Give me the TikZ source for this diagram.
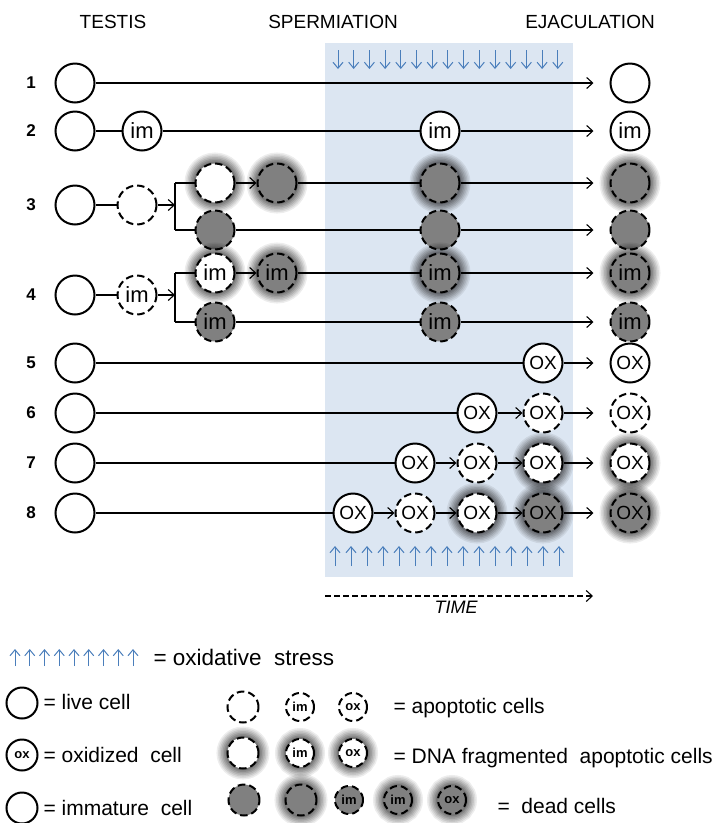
\documentclass[tikz,border=0pt]{standalone}
\usepackage{fontspec}
\setmainfont{Liberation Sans}
\usetikzlibrary{arrows.meta,backgrounds}
\definecolor{bgblue}{RGB}{220,230,242}
\definecolor{deadgray}{RGB}{128,128,128}
\definecolor{stressblue}{RGB}{74,126,187}
\begin{document}
\begin{tikzpicture}[x=1pt,y=-1pt,
  cell/.style={circle, draw=black, line width=2pt, minimum size=39pt, inner sep=0pt, fill=white, font=\fontsize{19}{19}\selectfont},
  imtxt/.style={font=\fontsize{22}{22}\selectfont},
  lcell/.style={cell, minimum size=31pt, font=\fontsize{13}{13}\selectfont\bfseries},
  apo/.style={dash pattern=on 7.5pt off 4pt},
  dead/.style={fill=deadgray},
  halo/.style={
    preaction={draw=black, solid, line width=22pt, draw opacity=0.07},
    preaction={draw=black, solid, line width=19pt, draw opacity=0.08},
    preaction={draw=black, solid, line width=16pt, draw opacity=0.09},
    preaction={draw=black, solid, line width=13pt, draw opacity=0.10},
    preaction={draw=black, solid, line width=10pt, draw opacity=0.11},
    preaction={draw=black, solid, line width=7pt, draw opacity=0.12},
    preaction={draw=black, solid, line width=4pt, draw opacity=0.14}},
  conn/.style={draw=black, line width=1.1pt},
  arr/.style={conn, -{Straight Barb[length=6pt,width=11pt,line width=1.1pt]}},
  endarr/.style={arr, shorten >=16pt},
  stress/.style={draw=stressblue, line width=1pt, -{Straight Barb[length=6pt,width=10pt,line width=1pt]}},
  head/.style={font=\fontsize{19}{19}\selectfont},
  rowlab/.style={font=\fontsize{17}{17}\selectfont\bfseries},
  legtext/.style={anchor=west, font=\fontsize{21}{21}\selectfont},
]
\useasboundingbox (0,0) rectangle (714,823);

% headers
\node[head] (hT) at (113,22) {TESTIS};
\node[head] (hS) at (333,22) {SPERMIATION};
\node[head] (hE) at (590,22) {EJACULATION};

% row labels
\foreach \n/\y in {1/83,2/131,3/205,4/295,5/363,6/413,7/463,8/513}
  \node[rowlab] (lab\n) at (31,\y) {\n};

% left circles
\foreach \n/\y in {1/83,2/131,3/205,4/295,5/363,6/413,7/463,8/513}
  \node[cell] (L\n) at (75,\y) {};

% row 1
\node[cell] (R1) at (630,83) {};
% row 2
\node[cell, imtxt] (a2) at (142,131) {im};
\node[cell, imtxt] (b2) at (440,131) {im};
\node[cell, imtxt] (R2) at (630,131) {im};
% row 3
\node[cell, apo] (d3) at (137,205) {};
\coordinate (br3) at (175,205);
\coordinate (br3t) at (175,183);
\coordinate (br3b) at (175,230);
\node[cell, apo, halo] (t3a) at (215,183) {};
\node[cell, apo, halo, dead] (t3b) at (277,183) {};
\node[cell, apo, halo, dead] (t3c) at (440,183) {};
\node[cell, apo, halo, dead] (R3t) at (630,183) {};
\node[cell, apo, dead] (b3a) at (215,230) {};
\node[cell, apo, dead] (b3c) at (440,230) {};
\node[cell, apo, dead] (R3b) at (630,230) {};
% row 4
\node[cell, apo, imtxt] (d4) at (137,295) {im};
\coordinate (br4) at (175,295);
\coordinate (br4t) at (175,273);
\coordinate (br4b) at (175,322);
\node[cell, apo, halo, imtxt] (t4a) at (215,273) {im};
\node[cell, apo, halo, dead, imtxt] (t4b) at (277,273) {im};
\node[cell, apo, halo, dead, imtxt] (t4c) at (440,273) {im};
\node[cell, apo, halo, dead, imtxt] (R4t) at (630,273) {im};
\node[cell, apo, dead, imtxt] (b4a) at (215,322) {im};
\node[cell, apo, dead, imtxt] (b4c) at (440,322) {im};
\node[cell, apo, dead, imtxt] (R4b) at (630,322) {im};
% row 5
\node[cell] (a5) at (543,363) {OX};
\node[cell] (R5) at (630,363) {OX};
% row 6
\node[cell] (a6) at (477,413) {OX};
\node[cell, apo] (b6) at (543,413) {OX};
\node[cell, apo] (R6) at (630,413) {OX};
% row 7
\node[cell] (a7) at (415,463) {OX};
\node[cell, apo] (b7) at (477,463) {OX};
\node[cell, apo, halo] (c7) at (543,463) {OX};
\node[cell, apo, halo] (R7) at (630,463) {OX};
% row 8
\node[cell] (a8) at (353,513) {OX};
\node[cell, apo] (b8) at (415,513) {OX};
\node[cell, apo, halo] (c8) at (477,513) {OX};
\node[cell, apo, halo, dead] (d8) at (543,513) {OX};
\node[cell, apo, halo, dead] (R8) at (630,513) {OX};

% TIME
\coordinate (tm1) at (325,596);
\coordinate (tm2) at (593,596);
\node[font=\fontsize{18}{18}\selectfont\itshape] (time) at (456,607) {TIME};

\begin{scope}[on background layer]
  \fill[bgblue] (325,43) rectangle (573,577);
  % stress arrows
  \foreach \i in {0,...,14} {
    \draw[stress] (338+\i*15.7,50) -- (338+\i*15.7,69);
    \draw[stress] (559-\i*16,566) -- (559-\i*16,546);
  }
  % connectors
  \draw[endarr] (L1) -- (R1);
  \draw[conn] (L2) -- (a2);
  \draw[conn] (a2) -- (b2);
  \draw[endarr] (b2) -- (R2);
  \draw[conn] (L3) -- (d3);
  \draw[arr] (d3) -- (br3);
  \draw[conn] (br3t) -- (br3b);
  \draw[conn] (br3t) -- (t3a);
  \draw[arr] (t3a) -- (t3b);
  \draw[conn] (t3b) -- (t3c);
  \draw[endarr] (t3c) -- (R3t);
  \draw[conn] (br3b) -- (b3a);
  \draw[conn] (b3a) -- (b3c);
  \draw[endarr] (b3c) -- (R3b);
  \draw[conn] (L4) -- (d4);
  \draw[arr] (d4) -- (br4);
  \draw[conn] (br4t) -- (br4b);
  \draw[conn] (br4t) -- (t4a);
  \draw[arr] (t4a) -- (t4b);
  \draw[conn] (t4b) -- (t4c);
  \draw[endarr] (t4c) -- (R4t);
  \draw[conn] (br4b) -- (b4a);
  \draw[conn] (b4a) -- (b4c);
  \draw[endarr] (b4c) -- (R4b);
  \draw[conn] (L5) -- (a5);
  \draw[endarr] (a5) -- (R5);
  \draw[conn] (L6) -- (a6);
  \draw[arr] (a6) -- (b6);
  \draw[endarr] (b6) -- (R6);
  \draw[conn] (L7) -- (a7);
  \draw[arr] (a7) -- (b7);
  \draw[arr] (b7) -- (c7);
  \draw[endarr] (c7) -- (R7);
  \draw[conn] (L8) -- (a8);
  \draw[arr] (a8) -- (b8);
  \draw[arr] (b8) -- (c8);
  \draw[arr] (c8) -- (d8);
  \draw[endarr] (d8) -- (R8);
  \draw[conn, dash pattern=on 6pt off 3pt, -{Straight Barb[length=6pt,width=11pt,line width=1.1pt]}] (tm1) -- (tm2);
\end{scope}

% legend
\foreach \i in {0,...,8}
  \draw[stress] (15+\i*14.75,666) -- (15+\i*14.75,649);
\node[legtext, font=\fontsize{22.5}{22.5}\selectfont] (lstress) at (150,657) {= oxidative\ \ stress};

\node[lcell] (lg1) at (22,703) {};
\node[legtext] (lg1t) at (40,702) {= live cell};
\node[lcell] (lg2) at (22,755) {ox};
\node[legtext] (lg2t) at (40,755) {= oxidized\ \ cell};
\node[lcell] (lg3) at (22,808) {};
\node[legtext] (lg3t) at (40,808) {= immature\ \ cell};

\node[lcell, apo] (ap1) at (243,707) {};
\node[lcell, apo, minimum size=28pt] (ap2) at (300,707) {im};
\node[lcell, apo, minimum size=28pt] (ap3) at (353,707) {ox};
\node[legtext] (apt) at (390,708) {= apoptotic cells};

\node[lcell, apo, halo] (dn1) at (243,753) {};
\node[lcell, apo, halo, minimum size=28pt] (dn2) at (300,753) {im};
\node[lcell, apo, halo, minimum size=28pt] (dn3) at (353,753) {ox};
\node[legtext] (dnt) at (390,758) {= DNA fragmented\ \ apoptotic cells};

\node[lcell, apo, dead] (de1) at (244,800) {};
\node[lcell, apo, dead, halo] (de2) at (301,800) {};
\node[lcell, apo, dead, minimum size=28pt] (de3) at (349,800) {im};
\node[lcell, apo, dead, halo, minimum size=28pt] (de4) at (398,800) {im};
\node[lcell, apo, dead, halo, minimum size=28pt] (de5) at (452,800) {ox};
\node[legtext] (det) at (494,806) {=\ \ dead cells};
\end{tikzpicture}
\end{document}
